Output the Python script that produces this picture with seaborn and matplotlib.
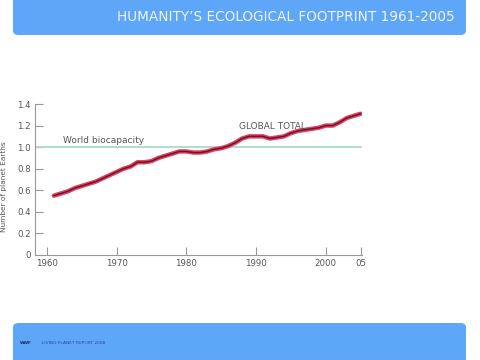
import matplotlib
matplotlib.use("Agg")
import matplotlib.pyplot as plt
from matplotlib.patches import FancyBboxPatch
import pandas as pd
import seaborn as sns

# Ecological footprint, number of planet Earths
years = list(range(1961, 2006))
footprint = [0.55, 0.57, 0.59, 0.62, 0.64, 0.66, 0.68, 0.71, 0.74, 0.77,
             0.80, 0.82, 0.86, 0.86, 0.87, 0.90, 0.92, 0.94, 0.96, 0.96,
             0.95, 0.95, 0.96, 0.98, 0.99, 1.01, 1.04, 1.08, 1.10, 1.10,
             1.10, 1.08, 1.09, 1.10, 1.13, 1.15, 1.16, 1.17, 1.18, 1.20,
             1.20, 1.23, 1.27, 1.29, 1.31]
biocapacity = 1.0
x_ticks = [1960, 1970, 1980, 1990, 2000, 2005]
x_tick_labels = ["1960", "1970", "1980", "1990", "2000", "05"]
y_ticks = [0, 0.2, 0.4, 0.6, 0.8, 1.0, 1.2, 1.4]

df = pd.DataFrame({"year": years, "footprint": footprint})

sns.set_theme(style="white")
plt.rcParams["font.family"] = ["DejaVu Sans"]

fig = plt.figure(figsize=(4.8, 3.6), dpi=100)
fig.patch.set_facecolor("white")

# banners
banner = "#5ea6f8"
fig.patches.append(FancyBboxPatch((13 / 480, 325 / 360), 453 / 480, 0.2,
                                  boxstyle="round,pad=0,rounding_size=0.012",
                                  transform=fig.transFigure, fc=banner, ec="none"))
fig.patches.append(FancyBboxPatch((13 / 480, -0.1), 453 / 480, 0.1 + 37 / 360,
                                  boxstyle="round,pad=0,rounding_size=0.012",
                                  transform=fig.transFigure, fc=banner, ec="none"))
fig.text(455 / 480, 1 - 17 / 360, "HUMANITY\u2019S ECOLOGICAL FOOTPRINT 1961-2005",
         ha="right", va="center", color="#eef4ff", fontsize=9.8)
fig.text(42 / 480, 1 - 343 / 360, "LIVING PLANET REPORT 2008",
         ha="left", va="center", color="#2a4a9a", fontsize=3.2)
fig.text(26 / 480, 1 - 343 / 360, "WWF", ha="center", va="center",
         color="#1a2a50", fontsize=3.0, fontweight="bold")

ax = fig.add_axes([35 / 480, 1 - 255 / 360, 327 / 480, 151 / 360])
ax.set_facecolor("white")

ax.axhline(biocapacity, xmin=0, xmax=1, color="#a9dcc9", lw=1.3, zorder=1)
sns.lineplot(data=df, x="year", y="footprint", ax=ax, color="#e2405e",
             lw=3.2, zorder=2, solid_capstyle="round")
sns.lineplot(data=df, x="year", y="footprint", ax=ax, color="#6e1530",
             lw=1.1, zorder=3)

ax.set_xlim(1958.3, 2005.2)
ax.set_ylim(0, 1.4)
ax.set_xticks(x_ticks)
ax.set_xticklabels(x_tick_labels)
ax.set_yticks(y_ticks)
ax.set_yticklabels(["0"] + [f"{v:.1f}" for v in y_ticks[1:]])
ax.tick_params(axis="both", direction="in", length=6, width=0.8,
               color="#999999", labelcolor="#555555", labelsize=6.2, pad=3,
               bottom=True, left=True)
ax.set_xlabel("")
ax.set_ylabel("Number of planet Earths", fontsize=5.3, color="#555555")
ax.yaxis.set_label_coords(-0.085, 0.45)

for side in ["top", "right"]:
    ax.spines[side].set_visible(False)
for side in ["left", "bottom"]:
    ax.spines[side].set_color("#999999")
    ax.spines[side].set_linewidth(0.8)

ax.text(1962.3, 1.02, "World biocapacity", fontsize=6.5, color="#555555",
        ha="left", va="bottom")
ax.text(1987.6, 1.15, "GLOBAL TOTAL", fontsize=6.5, color="#555555",
        ha="left", va="bottom")

fig.savefig("out.png", dpi=100)
